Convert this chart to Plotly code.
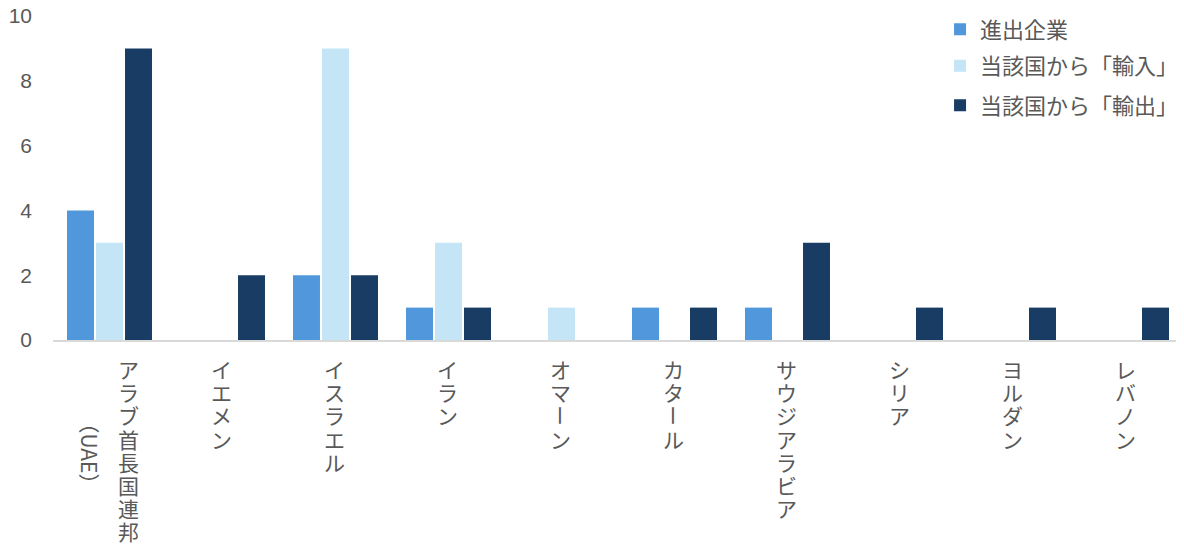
import plotly.graph_objects as go

categories = ["アラブ首長国連邦（UAE）", "イエメン", "イスラエル", "イラン", "オマーン",
              "カタール", "サウジアラビア", "シリア", "ヨルダン", "レバノン"]
series_names = ["進出企業", "当該国から「輸入」", "当該国から「輸出」"]
companies = [4, 0, 2, 1, 0, 1, 1, 0, 0, 0]
imports = [3, 0, 9, 3, 1, 0, 0, 0, 0, 0]
exports = [9, 2, 2, 1, 0, 1, 3, 1, 1, 1]
y_ticks = [0, 2, 4, 6, 8, 10]

colors = ["#5097DB", "#C4E5F5", "#183C63"]
JP = "Noto Sans CJK JP"
GRAY = "#595959"
LABEL_SIZE = 21
PITCH = 23.2

fig = go.Figure()
legend_ids = ["legend", "legend2", "legend3"]
for name, vals, col, lg in zip(series_names, [companies, imports, exports], colors, legend_ids):
    fig.add_trace(go.Bar(x=categories, y=vals, name=name, marker_color=col,
                         marker_line_width=0, legend=lg, showlegend=True))

annotations = []


def add_vertical(cat, text, xshift):
    # Japanese vertical writing: one character per row, long vowel mark rotated
    for i, ch in enumerate(text):
        annotations.append(dict(
            x=cat, y=0, xref="x", yref="paper", text=ch, showarrow=False,
            xanchor="center", yanchor="middle", xshift=xshift,
            yshift=-(29 + i * PITCH), textangle=90 if ch == "ー" else 0,
            font=dict(family=JP, size=LABEL_SIZE, color=GRAY)))


for cat in categories:
    if "（" in cat:
        main, sub = cat.split("（", 1)
        sub = "（" + sub
        add_vertical(cat, main, 19)
        annotations.append(dict(x=cat, y=0, xref="x", yref="paper", text=sub,
                                showarrow=False, yanchor="middle", xanchor="center",
                                textangle=90, xshift=-20, yshift=-113,
                                font=dict(family=JP, size=LABEL_SIZE, color=GRAY)))
    else:
        add_vertical(cat, cat, -1)

leg_common = dict(x=0.785, xanchor="left", yanchor="top", bgcolor="rgba(0,0,0,0)",
                  font=dict(family=JP, size=22, color=GRAY))
fig.update_layout(
    width=1176, height=540,
    margin=dict(l=45, r=1, t=8, b=208, autoexpand=False),
    plot_bgcolor="white", paper_bgcolor="white",
    showlegend=True,
    barmode="group", bargap=0.23, bargroupgap=0.07,
    legend=dict(y=1.023, **leg_common),
    legend2=dict(y=0.911, **leg_common),
    legend3=dict(y=0.789, **leg_common),
    annotations=annotations,
    xaxis=dict(showticklabels=False, showline=True, linecolor="#D9D9D9", linewidth=2,
               showgrid=False, ticks=""),
    yaxis=dict(range=[0, 10], tickvals=y_ticks, showgrid=False, zeroline=False,
               showline=False, ticklabelstandoff=20, ticklabeloverflow="allow",
               tickfont=dict(family="Liberation Sans, Arial", size=21, color=GRAY)),
)

fig.write_html("out.html")
